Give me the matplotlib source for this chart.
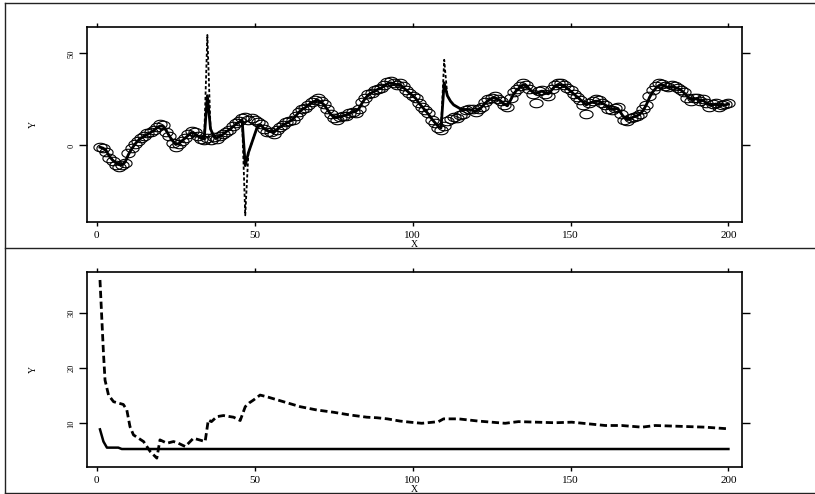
import numpy as np
import matplotlib
matplotlib.use("Agg")
from matplotlib import pyplot as plt
from matplotlib.path import Path
from matplotlib.lines import Line2D

plt.rcParams['font.family'] = ['Liberation Serif', 'DejaVu Serif']

# ---- top panel: observations (circles), filter (solid), prediction (dashed)
obs = [-1, -1.5, -3.5, -7, -8.5, -10.5, -11.5, -10.5, -9.5, -4,
       -1.5, 1, 2.5, 4, 5, 6.5, 7, 8.5, 10, 11.5,
       11, 7.5, 5, 1.5, -1, 0.5, 2.5, 4, 6, 8,
       7, 5, 3.5, 3, 4, 3, 4.5, 3.5, 5, 6,
       7.5, 8.5, 10.5, 12, 13, 15, 15.5, 14, 15, 14,
       12.5, 11.5, 9, 7.5, 7.5, 6, 8.5, 10, 11, 12.5,
       13, 14, 16, 18, 20, 20.5, 22, 23.5, 24.5, 25.5,
       24, 22.5, 20, 17, 15, 14, 15.5, 16, 16, 17.5,
       18, 17.5, 20, 23.5, 26, 28, 28.5, 30, 30.5, 31,
       33, 34.5, 35, 34, 33, 34, 32, 30, 28.5, 27,
       26, 23, 21, 19, 17.5, 14, 12, 9.5, 8.5, 10.5,
       13, 14.5, 15.5, 15, 16.5, 17, 19, 20, 19.5, 18,
       19.5, 21, 23.5, 25, 26, 27, 25, 24, 22, 21,
       25.5, 29, 30.5, 32, 34, 33, 30.5, 28, 23, 29.5,
       30, 28, 27, 30.5, 33, 34, 34, 33, 31, 30,
       28, 26.5, 24.5, 22, 17, 23, 24, 25, 24.5, 23,
       22, 20, 19, 20.5, 21, 17, 14, 13, 15, 15.5,
       16, 17, 19.5, 22, 27, 30, 32, 34, 33.5, 32,
       31.5, 33, 32, 31, 30, 29, 26, 24, 25.5, 26,
       24, 25, 23, 21, 22.5, 23, 21, 22, 22.5, 23]

filt = [-1, -1.5, -3, -6, -8, -9.5, -10.5, -10.5, -9, -5,
        -2, 0.5, 2.5, 4, 5, 6, 7, 8, 9.5, 10.5,
        10.5, 8, 5, 2.5, 0.5, 1, 2.5, 4, 5.5, 7,
        6.5, 5, 4, 3.5, 27, 9, 5, 4, 5, 6,
        7.5, 8.5, 10, 11.5, 12.5, 14, -11, -4, 1, 6,
        11, 11, 9, 8, 7.5, 7, 8.5, 10, 11, 12,
        13, 14, 16, 18, 19.5, 20.5, 22, 23, 24, 24.5,
        23.5, 22, 19.5, 17, 15.5, 15, 15.5, 16, 16.5, 17.5,
        18, 18.5, 20, 23, 25.5, 27.5, 28.5, 29.5, 30.5, 31,
        32.5, 33.5, 34, 33.5, 33, 33, 31.5, 30, 28.5, 27,
        25.5, 23, 21, 19, 17, 14.5, 12.5, 10.5, 9.5, 34,
        27, 24, 22, 21, 20, 19.5, 19.5, 19.5, 19, 18.5,
        19.5, 21, 23, 24.5, 25.5, 26, 25, 24, 22.5, 21.5,
        24.5, 28, 30, 31.5, 33, 32.5, 30.5, 29, 28, 29,
        29.5, 28.5, 28, 30, 32, 33, 33, 32.5, 31, 29.5,
        28, 26.5, 25, 23.5, 22, 23, 23.5, 24, 24, 23,
        22, 20.5, 19.5, 20, 20, 17.5, 15, 14, 14.5, 15.5,
        16, 17, 19, 22, 26, 29, 31, 32.5, 33, 32,
        31.5, 32, 31.5, 31, 30, 28.5, 26.5, 25, 25, 25.5,
        24.5, 24.5, 23, 22, 22, 22.5, 21.5, 22, 22, 22.5]

# prediction equals the filter except at the three outliers
spike_t = [35, 47, 110]
spike_pred = [60, -38, 46.5]

t = list(range(1, len(obs) + 1))
pred = list(filt)
for s, v in zip(spike_t, spike_pred):
    pred[s - 1] = v

# ---- bottom panel
var_x = [1, 2.1, 3.2, 6.8, 7.9, 200]
var_y = [8.9, 6.7, 5.6, 5.6, 5.35, 5.35]

err_x = [1, 1.6, 2.1, 2.6, 3.7, 5.3, 8.4, 9.5, 10.5, 11.6, 14.8, 16.9, 19, 20,
         22.2, 24.3, 25.8, 28, 30.6, 34.3, 35.3, 36.3, 38, 40.1, 43.3, 45.4,
         47, 48.3, 49.6, 51.7, 53.8, 59.1, 64.4, 69.7, 74.9, 80.2, 85.5, 88.7,
         92, 96, 99.2, 102.9, 108.2, 109.8, 114.5, 120.8, 129.3, 133.5, 145.1,
         150.4, 161, 166.2, 172.6, 176.8, 182.1, 192.6, 200]
err_y = [35.9, 28.7, 22.7, 17.8, 15.1, 13.9, 13.4, 12.4, 9.4, 7.9, 6.7, 4.9, 3.7, 7.0,
         6.4, 6.7, 6.4, 5.8, 7.3, 6.7, 10.6, 10.3, 11.2, 11.4, 11.1, 10.5,
         13.0, 13.7, 14.2, 15.1, 14.8, 13.9, 13.0, 12.4, 12.0, 11.5, 11.1, 11.0,
         10.8, 10.4, 10.2, 10.0, 10.3, 10.8, 10.8, 10.4, 10.0, 10.3, 10.1,
         10.2, 9.6, 9.6, 9.3, 9.6, 9.5, 9.3, 9.0]

x_ticks = [0, 50, 100, 150, 200]

# wide open circle (the original was stretched sideways)
ang = np.linspace(0, 2 * np.pi, 41)
ellipse = Path(np.column_stack([1.55 * np.cos(ang), np.sin(ang)]))

fig = plt.figure(figsize=(8.15, 4.94), dpi=100)
ax1 = fig.add_axes([0.1064, 0.55, 0.8044, 0.396])
ax2 = fig.add_axes([0.1064, 0.054, 0.8044, 0.396])

ax1.plot(t, obs, linestyle='none', marker=ellipse, markersize=9.5,
         markerfacecolor='none', markeredgecolor='black', markeredgewidth=0.8)
ax1.plot(t, pred, color='black', linewidth=1.3, linestyle=(0, (1.8, 1.2)))
ax1.plot(t, filt, color='black', linewidth=2.0)
ax1.set_ylim(-41.8, 64.5)
ax1.set_yticks([0, 50])

ax2.plot(err_x, err_y, color='black', linewidth=2.0, linestyle=(0, (2.6, 1.3)))
ax2.plot(var_x, var_y, color='black', linewidth=1.8)
ax2.set_ylim(2.04, 37.4)
ax2.set_yticks([10, 20, 30])

for ax in [ax1, ax2]:
    ax.set_xlim(-3.2, 204.4)
    ax.set_xticks(x_ticks)
    ax.tick_params(axis='x', direction='out', top=True, labeltop=False,
                   length=3, width=1, labelsize=8, pad=3)
    ax.tick_params(axis='y', direction='out', right=True, labelright=False,
                   length=6, width=1, labelsize=6, pad=2, labelrotation=90)
    for lab in ax.get_yticklabels():
        lab.set_va('center')
    for sp in ax.spines.values():
        sp.set_linewidth(1.2)
    ax.set_xlabel('X', fontsize=7, labelpad=0)
    ax.set_ylabel('Y', fontsize=7)
    ax.yaxis.set_label_coords(-0.074, 0.5)

# outer frame lines round the two panels
fc = '#222222'
fig.add_artist(Line2D([0.0061, 0.0061], [0.003, 0.9945], color=fc, lw=1))
fig.add_artist(Line2D([0.0061, 1], [0.9945, 0.9945], color=fc, lw=1))
fig.add_artist(Line2D([0.0061, 1], [0.497, 0.497], color=fc, lw=1))
fig.add_artist(Line2D([0.0061, 1], [0.003, 0.003], color=fc, lw=1))

plt.savefig('out.png', dpi=100)
